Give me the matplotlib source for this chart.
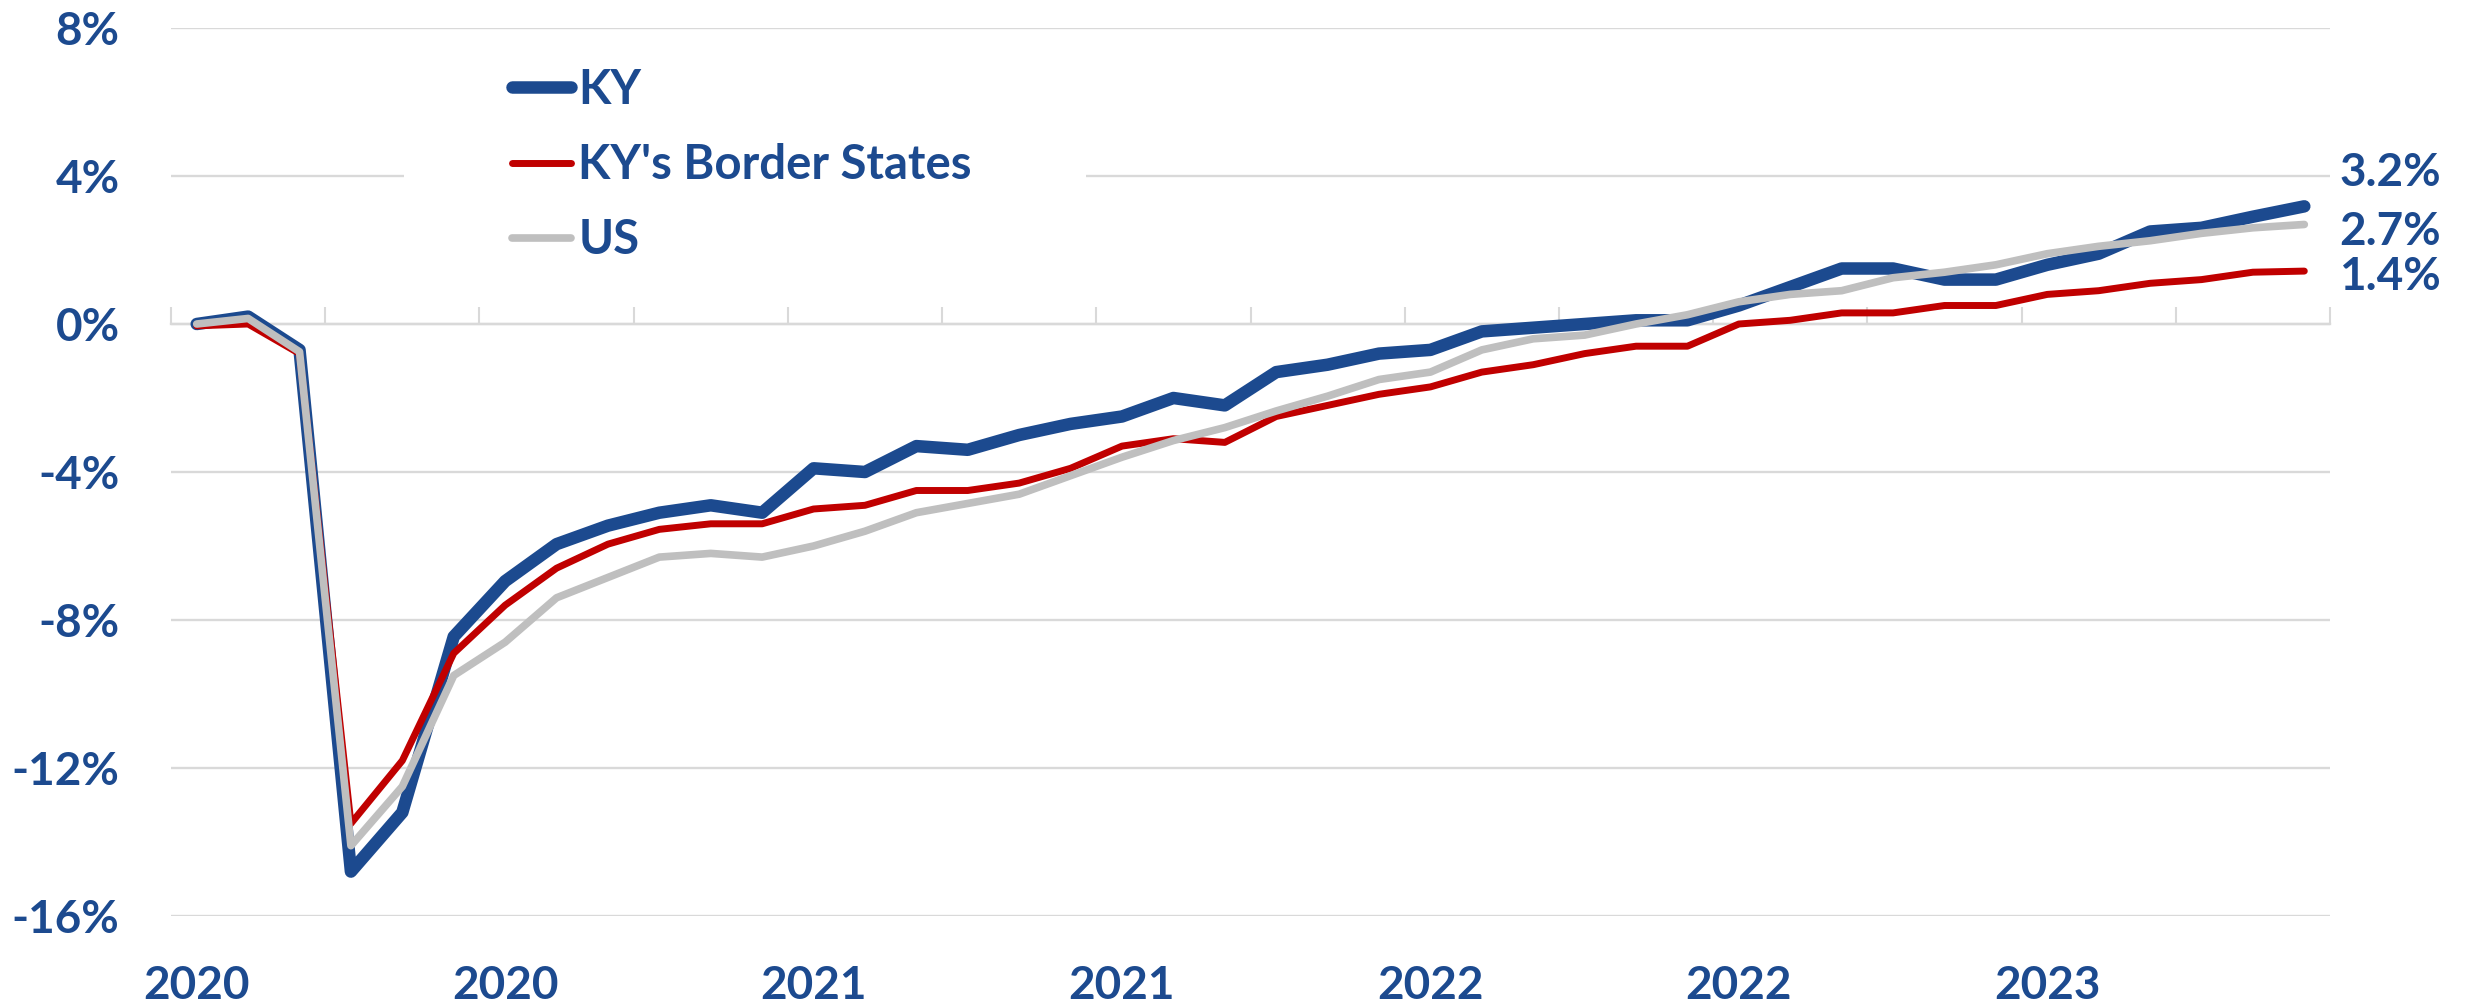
import numpy as np
import pandas as pd
import matplotlib
matplotlib.use("Agg")
import matplotlib.pyplot as plt
from matplotlib.patches import Rectangle

plt.rcParams['font.family'] = ['Lato', 'DejaVu Sans']
plt.rcParams['font.weight'] = 'bold'
plt.rcParams['axes.unicode_minus'] = False

# monthly categories, Jan 2020 - Jun 2023
months = pd.date_range("2020-01-01", "2023-06-01", freq="MS")

# % change in nonfarm employment since Jan 2020
ky = [0.0, 0.2, -0.7, -14.8, -13.2, -8.45, -6.95, -5.95, -5.45, -5.1,
      -4.9, -5.1, -3.9, -4.0, -3.3, -3.4, -3.0, -2.7, -2.5, -2.0,
      -2.2, -1.3, -1.1, -0.8, -0.7, -0.2, -0.1, 0.0, 0.1, 0.1,
      0.5, 1.0, 1.5, 1.5, 1.2, 1.2, 1.6, 1.9, 2.5, 2.6,
      2.9, 3.18]
border = [-0.05, 0.0, -0.8, -13.5, -11.8, -8.9, -7.6, -6.6, -5.95, -5.55,
          -5.4, -5.4, -5.0, -4.9, -4.5, -4.5, -4.3, -3.9, -3.3, -3.1,
          -3.2, -2.5, -2.2, -1.9, -1.7, -1.3, -1.1, -0.8, -0.6, -0.6,
          0.0, 0.1, 0.3, 0.3, 0.5, 0.5, 0.8, 0.9, 1.1, 1.2,
          1.4, 1.43]
us = [0.0, 0.15, -0.75, -14.1, -12.5, -9.5, -8.6, -7.4, -6.85, -6.3,
      -6.2, -6.3, -6.0, -5.6, -5.1, -4.85, -4.6, -4.1, -3.6, -3.15,
      -2.8, -2.35, -1.95, -1.5, -1.3, -0.7, -0.4, -0.3, 0.0, 0.25,
      0.6, 0.8, 0.9, 1.25, 1.4, 1.6, 1.9, 2.1, 2.25, 2.45,
      2.6, 2.69]

series_names = ["KY", "KY's Border States", "US"]
yticks = [-16, -12, -8, -4, 0, 4, 8]

BLUE = '#1C4A8F'
RED = '#C00000'
GRAY = '#BFBFBF'
GRID = '#D9D9D9'
FS = 33

x = np.arange(len(months))

fig = plt.figure(figsize=(24.73, 10.05), dpi=100)
ax = fig.add_axes([0.06915, 0.08856, 0.87303, 0.88358])

ax.plot(x, ky, color=BLUE, lw=9, solid_capstyle='round', solid_joinstyle='round',
        label=series_names[0], zorder=3)
ax.plot(x, border, color=RED, lw=5, solid_capstyle='round', solid_joinstyle='round',
        label=series_names[1], zorder=4)
ax.plot(x, us, color=GRAY, lw=5.5, solid_capstyle='round', solid_joinstyle='round',
        label=series_names[2], zorder=5)

ax.set_xlim(-0.5, len(months) - 0.5)
ax.set_ylim(yticks[0], yticks[-1])

# y axis
ax.set_yticks(yticks)
ax.set_yticklabels([f"{v}%" for v in yticks])
ax.tick_params(axis='y', length=0, pad=37, labelsize=FS, labelcolor=BLUE)
ax.yaxis.grid(True, color=GRID, lw=1.7)
ax.set_axisbelow('line')

for s in ['top', 'left', 'right']:
    ax.spines[s].set_visible(False)
ax.spines['bottom'].set_position(('data', 0))
ax.spines['bottom'].set_color(GRID)
ax.spines['bottom'].set_linewidth(1.7)

# category tick marks every quarter, on the 0% line
ax.set_xticks(np.arange(-0.5, len(months), 3))
ax.tick_params(axis='x', direction='in', length=12, width=1.5, color=GRID,
               labelbottom=False)

# year labels every 6 months at the bottom
sec = ax.secondary_xaxis('bottom')
sec.set_xticks(x[::6], labels=[str(m.year) for m in months[::6]])
sec.tick_params(length=0, pad=35, labelsize=FS, labelcolor=BLUE)
sec.spines['bottom'].set_visible(False)

# white legend box hiding the gridline behind it
ax.add_patch(Rectangle((0.108, 0.705), 0.316, 0.27, transform=ax.transAxes,
                       facecolor='white', edgecolor='none', zorder=1.6))
leg = ax.legend(loc='upper left', bbox_to_anchor=(0.158, 0.955), frameon=False,
                fontsize=34, handlelength=1.25, handletextpad=0.15,
                labelspacing=0.66, borderpad=0, borderaxespad=0)
for t in leg.get_texts():
    t.set_color(BLUE)

# end-of-line value labels
for vals, dy in [(ky, 33), (us, -8), (border, -6)]:
    ax.annotate(f"{vals[-1]:.1f}%", xy=(x[-1], vals[-1]), xytext=(35, dy),
                textcoords='offset pixels', va='center', ha='left',
                fontsize=FS, color=BLUE, annotation_clip=False)

fig.savefig("out.png", dpi=100)
